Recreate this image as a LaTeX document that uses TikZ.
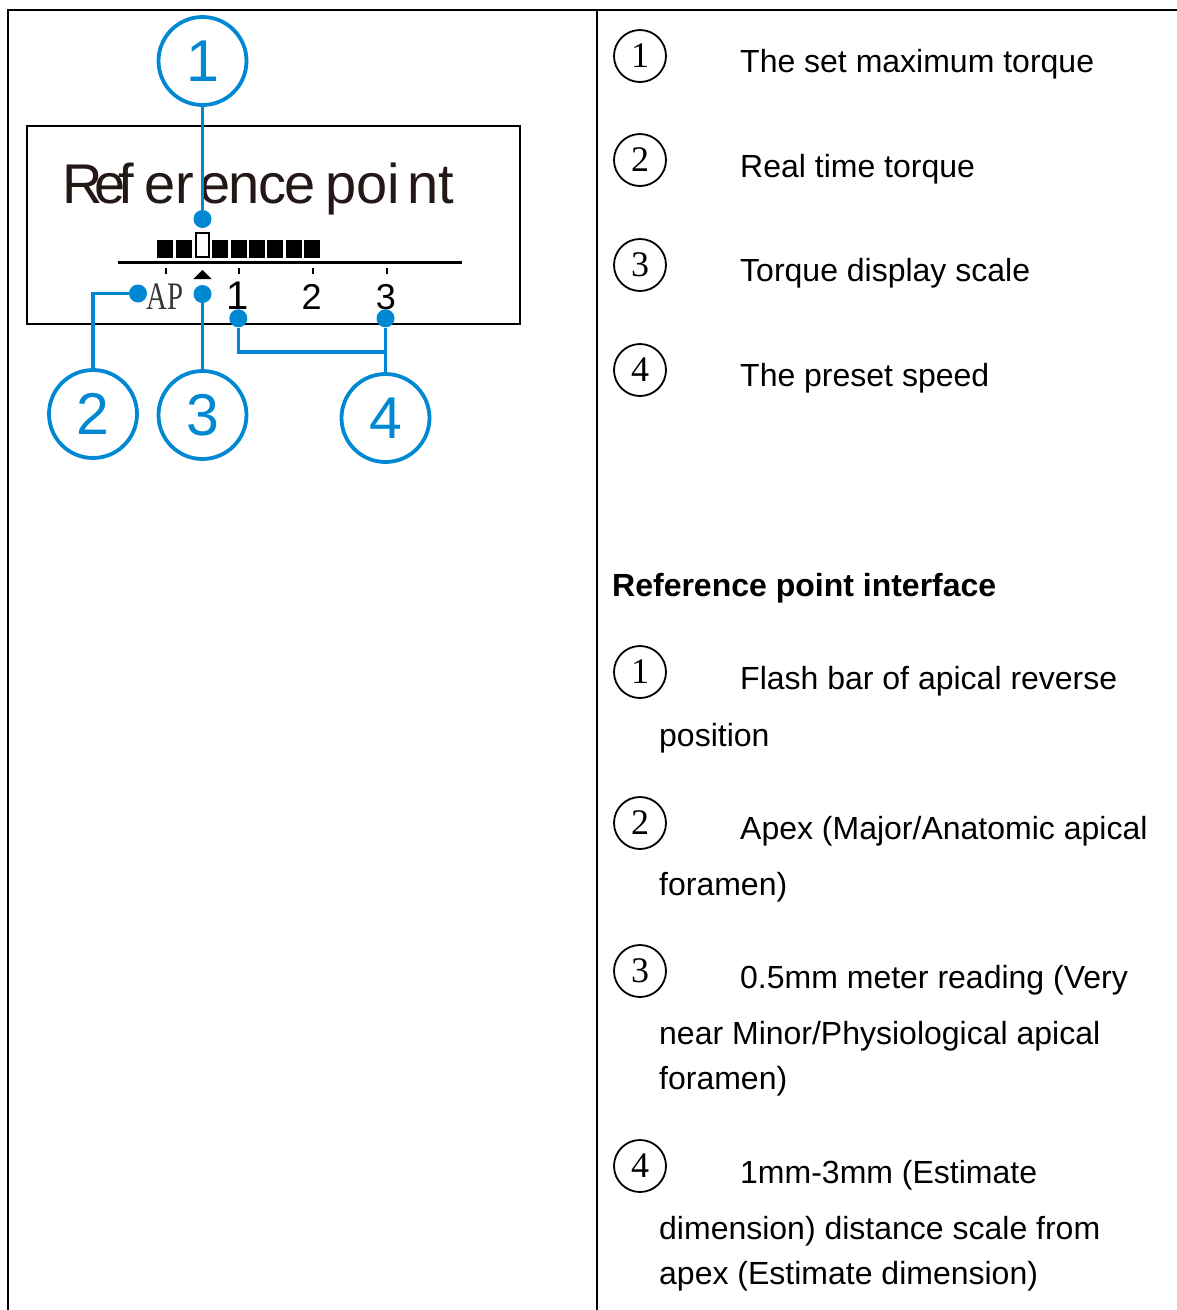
\documentclass[tikz,border=0pt]{standalone}
\usepackage{fontspec}
\setmainfont{Liberation Sans}
\newfontfamily\serifnum{Liberation Serif}
\usepackage{graphicx}
\usepackage{xcolor}
\usetikzlibrary{positioning}
\definecolor{callblue}{RGB}{0,137,210}
\definecolor{lcdink}{RGB}{35,24,21}

\begin{document}
\begin{tikzpicture}[
  x=1pt, y=-1pt,
  callout/.style={draw=callblue, line width=3.8pt, circle, minimum size=88pt,
                  inner sep=0pt, text=callblue, font=\fontsize{59}{59}\selectfont},
  pin/.style={circle, fill=callblue, minimum size=18pt, inner sep=0pt},
  lead/.style={draw=callblue, line width=3.5pt},
  num/.style={draw, circle, line width=1.8pt, minimum size=52pt, inner sep=0pt,
              font=\serifnum\fontsize{36}{36}\selectfont},
  desc/.style={anchor=base west, inner sep=0pt, font=\fontsize{32}{38}\selectfont},
  seg/.style={fill=black, minimum width=16pt, minimum height=18pt, inner sep=0pt},
  scalenum/.style={anchor=base, inner sep=0pt, font=\fontsize{36}{36}\selectfont},
  lcdword/.style={anchor=base west, inner sep=0pt, text=lcdink,
                  font=\fontsize{56}{56}\selectfont},
]
\useasboundingbox (0,0) rectangle (1177,1310);

%% --- Tabla ---
\draw[line width=2.8pt] (8,1310) -- (8,10) -- (1177,10);
\draw[line width=2.5pt] (597,10) -- (597,1310);

%% --- Pantalla ---
\node[draw, line width=1.6pt, minimum width=493pt, minimum height=198pt,
      inner sep=0pt, anchor=north west] (lcd) at (26,125) {};

\node[lcdword] (w1) at (62,203)  {\addfontfeature{LetterSpace=-14}Ref};
\node[lcdword] (w2) at (144,203) {er};
\node[lcdword] (w3) at (199,203) {\addfontfeature{LetterSpace=-3}ence};
\node[lcdword] (w4) at (325,203) {poi};
\node[lcdword] (w5) at (407,203) {nt};

%% barra de par
\foreach \i in {0,1,3,4,5,6,7,8}
  \node[seg] (seg\i) at (165.3+18.35*\i,249.2) {};
\node[draw, line width=2pt, minimum width=13pt, minimum height=24pt,
      inner sep=0pt] (flash) at (202.3,245.2) {};

%% escala
\draw[line width=2.2pt] (118,262.5) -- (462,262.5);
\foreach \x in {166,239.3,312.7,386.7}
  \draw[line width=2pt] (\x,268.3) -- (\x,273.5);
\fill (193.3,279) -- (211.7,279) -- (202.5,270) -- cycle;

\node[anchor=base, inner sep=0pt, text=black!78,
      font=\serifnum\fontsize{39}{39}\selectfont] (ap) at (165,309.5)
      {\scalebox{0.74}[1]{AP}};
\node[scalenum, font=\fontsize{40}{40}\selectfont] (mm1) at (237.5,309.5) {1};
\node[scalenum] (mm2) at (311.7,309.5) {2};
\node[scalenum] (mm3) at (386,309.5) {3};

%% --- Marcas azules ---
\node[pin] (pFlash) at (202.5,219) {};
\node[pin] (pAp)    at (138,293.5) {};
\node[pin] (pTri)   at (202.5,294) {};
\node[pin] (pOne)   at (238.3,318.3) {};
\node[pin] (pThree) at (385.5,318.3) {};

\node[callout] (c1) at (202.5,61) {1};
\node[callout] (c2) at (93,414)   {2};
\node[callout] (c3) at (202.5,415) {3};
\node[callout] (c4) at (385.5,418) {4};

\coordinate (j4) at (385.5,352);

\draw[lead] (c1) -- (pFlash);
\draw[lead] (pAp) -| (c2);
\draw[lead] (pTri) -- (c3);
\draw[lead] (pOne) |- (j4);
\draw[lead] (pThree) -- (c4);

%% --- Leyenda: par ---
\node[num] (t1) at (640,56)  {1};
\node[num] (t2) at (640,160) {2};
\node[num] (t3) at (640,265) {3};
\node[num] (t4) at (640,370) {4};

\node[desc] (tq1) at (740,72.5)  {The set maximum torque};
\node[desc] (tq2) at (740,177.5) {Real time torque};
\node[desc] (tq3) at (740,281.5) {Torque display scale};
\node[desc] (tq4) at (740,386.5) {The preset speed};

%% --- Leyenda: punto de referencia ---
\node[desc, font=\bfseries\fontsize{32}{38}\selectfont] (iface) at (612,596.5)
      {Reference point interface};

\node[num] (r1) at (640,672)  {1};
\node[num] (r2) at (640,823)  {2};
\node[num] (r3) at (640,971)  {3};
\node[num] (r4) at (640,1166) {4};

\node[desc] (rp1a) at (740,689.5)  {Flash bar of apical reverse};
\node[desc] (rp1b) at (659,746.5)  {position};
\node[desc] (rp2a) at (740,839.5)  {Apex (Major/Anatomic apical};
\node[desc] (rp2b) at (659,895.5)  {foramen)};
\node[desc] (rp3a) at (740,988.5)  {0.5mm meter reading (Very};
\node[desc] (rp3b) at (659,1044.5) {near Minor/Physiological apical};
\node[desc] (rp3c) at (659,1089.5) {foramen)};
\node[desc] (rp4a) at (740,1183.5) {1mm-3mm (Estimate};
\node[desc] (rp4b) at (659,1239.5) {dimension) distance scale from};
\node[desc] (rp4c) at (659,1284.5) {apex (Estimate dimension)};

\end{tikzpicture}
\end{document}
